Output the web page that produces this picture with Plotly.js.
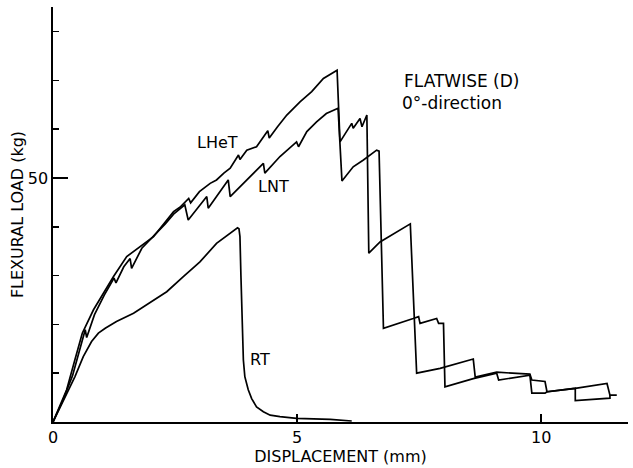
<!DOCTYPE html>
<html>
<head>
<meta charset="utf-8">
<script src="https://cdn.plot.ly/plotly-3.0.1.min.js"></script>
<style>html,body{margin:0;padding:0;background:#fff;}#chart{width:633px;height:468px;}</style>
</head>
<body>
<div id="chart"></div>
<script>
// RT curve
var rtX = [0, 0.21, 0.45, 0.62, 0.79, 0.93, 1.07, 1.30, 1.65, 1.99, 2.33, 2.67, 3.01, 3.35, 3.63, 3.73, 3.78, 3.81, 3.83, 3.85, 3.87, 3.90, 3.93, 4.0, 4.07, 4.17, 4.31, 4.45, 4.65, 4.99, 5.68, 6.12];
var rtY = [0, 4.5, 9.3, 13.4, 16.5, 18.2, 19.2, 20.6, 22.3, 24.5, 26.7, 29.8, 32.8, 36.6, 38.7, 39.3, 39.8, 39.6, 38.0, 30.0, 20.9, 12.7, 9.3, 6.6, 4.8, 3.1, 2.1, 1.4, 1.1, 0.75, 0.55, 0.2];

// LHeT curve
var lhetX = [0, 0.15, 0.28, 0.45, 0.6, 0.83, 1.03, 1.24, 1.51, 1.78, 2.06, 2.3, 2.47, 2.60, 2.70, 2.78, 2.82, 3.0, 3.22, 3.35, 3.5, 3.63, 3.80, 3.83, 3.97, 4.17, 4.40, 4.43, 4.6, 4.79, 5.06, 5.30, 5.54, 5.82, 5.88, 6.12, 6.15, 6.29, 6.33, 6.43, 6.47, 6.70, 7.32, 7.45, 7.93, 8.61, 8.65, 9.09, 9.77, 9.81, 10.08, 10.12, 10.70, 11.35, 11.41, 11.55];
var lhetY = [0, 3.4, 6.6, 12.8, 18.2, 23.0, 26.4, 29.8, 33.9, 35.9, 38.0, 41.0, 43.1, 44.0, 45.1, 45.8, 44.9, 47.2, 48.9, 49.6, 51.0, 52.0, 54.7, 53.8, 55.7, 56.4, 59.7, 58.2, 60.5, 62.9, 65.6, 67.7, 70.4, 72.1, 57.4, 61.2, 60.2, 62.2, 60.5, 62.9, 34.6, 36.9, 40.6, 10.0, 11.0, 12.9, 9.2, 10.2, 9.8, 8.6, 8.3, 6.2, 6.9, 7.9, 5.5, 5.5];

// LNT curve
var lntX = [0, 0.2, 0.4, 0.55, 0.66, 0.69, 0.85, 1.05, 1.25, 1.29, 1.45, 1.58, 1.61, 1.82, 2.06, 2.30, 2.47, 2.70, 2.77, 3.15, 3.18, 3.59, 3.63, 3.97, 4.31, 4.34, 4.65, 4.99, 5.03, 5.20, 5.40, 5.60, 5.84, 5.92, 6.15, 6.36, 6.63, 6.68, 6.77, 7.38, 7.49, 7.52, 7.86, 7.90, 8.00, 8.03, 8.61, 9.09, 9.13, 9.77, 9.81, 10.08, 10.12, 10.70, 10.70, 11.41, 11.41];
var lntY = [0, 4.4, 9.5, 14.8, 18.9, 17.3, 22.0, 26.0, 29.5, 28.5, 31.8, 33.5, 31.5, 35.6, 38.0, 40.6, 42.6, 44.5, 41.4, 46.2, 43.8, 49.6, 46.2, 49.6, 53.0, 51.0, 54.4, 57.4, 56.4, 59.5, 61.5, 63.2, 64.3, 49.4, 52.3, 53.7, 55.7, 55.5, 19.2, 21.2, 21.6, 20.2, 21.2, 20.2, 20.2, 7.2, 8.9, 10.0, 8.6, 9.6, 5.9, 5.9, 6.2, 6.9, 4.4, 4.9, 5.5];

var xTickVals = [0, 5, 10];
var xTickText = ['0', '5', '10'];
var yTickVals = [50];
var yTickText = ['50'];

var lineStyle = {color: '#000', width: 1.7};
var fontFam = 'DejaVu Sans, sans-serif';

var traces = [
  {x: rtX, y: rtY, mode: 'lines', name: 'RT', line: lineStyle, hoverinfo: 'skip'},
  {x: lhetX, y: lhetY, mode: 'lines', name: 'LHeT', line: lineStyle, hoverinfo: 'skip'},
  {x: lntX, y: lntY, mode: 'lines', name: 'LNT', line: lineStyle, hoverinfo: 'skip'}
];

var layout = {
  width: 633, height: 468,
  margin: {l: 53, r: 5, t: 7, b: 46},
  paper_bgcolor: '#fff', plot_bgcolor: '#fff',
  showlegend: false,
  font: {family: fontFam, color: '#000', size: 16},
  xaxis: {
    range: [0, 11.78], showgrid: false, zeroline: false,
    showline: true, linecolor: '#000', linewidth: 1.7,
    tickmode: 'array', tickvals: xTickVals, ticktext: xTickText,
    ticks: 'inside', ticklen: 8, tickwidth: 1.5, tickcolor: '#000',
    tickfont: {size: 16, family: fontFam, color: '#000'},
    title: {text: 'DISPLACEMENT (mm)', font: {size: 16, family: fontFam, color: '#000'}, standoff: 2}
  },
  yaxis: {
    range: [0, 85.04], showgrid: false, zeroline: false,
    showline: true, linecolor: '#000', linewidth: 1.7,
    tickmode: 'array', tickvals: yTickVals, ticktext: yTickText,
    ticks: 'inside', ticklen: 15, tickwidth: 1.5, tickcolor: '#000',
    tickfont: {size: 16, family: fontFam, color: '#000'},
    minor: {tickmode: 'linear', tick0: 0, dtick: 10, ticks: 'inside', ticklen: 6, tickwidth: 1.5, tickcolor: '#000', showgrid: false},
    title: {text: 'FLEXURAL LOAD (kg)', font: {size: 16, family: fontFam, color: '#000'}, standoff: 0}
  },
  annotations: [
    {x: 3.36, y: 57.2, xref: 'x', yref: 'y', text: 'LHeT', showarrow: false, font: {size: 16, family: fontFam, color: '#000'}},
    {x: 4.51, y: 48.2, xref: 'x', yref: 'y', text: 'LNT', showarrow: false, font: {size: 16, family: fontFam, color: '#000'}},
    {x: 4.24, y: 12.9, xref: 'x', yref: 'y', text: 'RT', showarrow: false, font: {size: 16, family: fontFam, color: '#000'}},
    {x: 7.15, y: 69.9, xref: 'x', yref: 'y', text: 'FLATWISE (D)', xanchor: 'left', showarrow: false, font: {size: 17, family: fontFam, color: '#000'}},
    {x: 7.11, y: 65.4, xref: 'x', yref: 'y', text: '0°-direction', xanchor: 'left', showarrow: false, font: {size: 17, family: fontFam, color: '#000'}}
  ]
};

Plotly.newPlot('chart', traces, layout, {displayModeBar: false, staticPlot: true});
</script>
</body>
</html>
